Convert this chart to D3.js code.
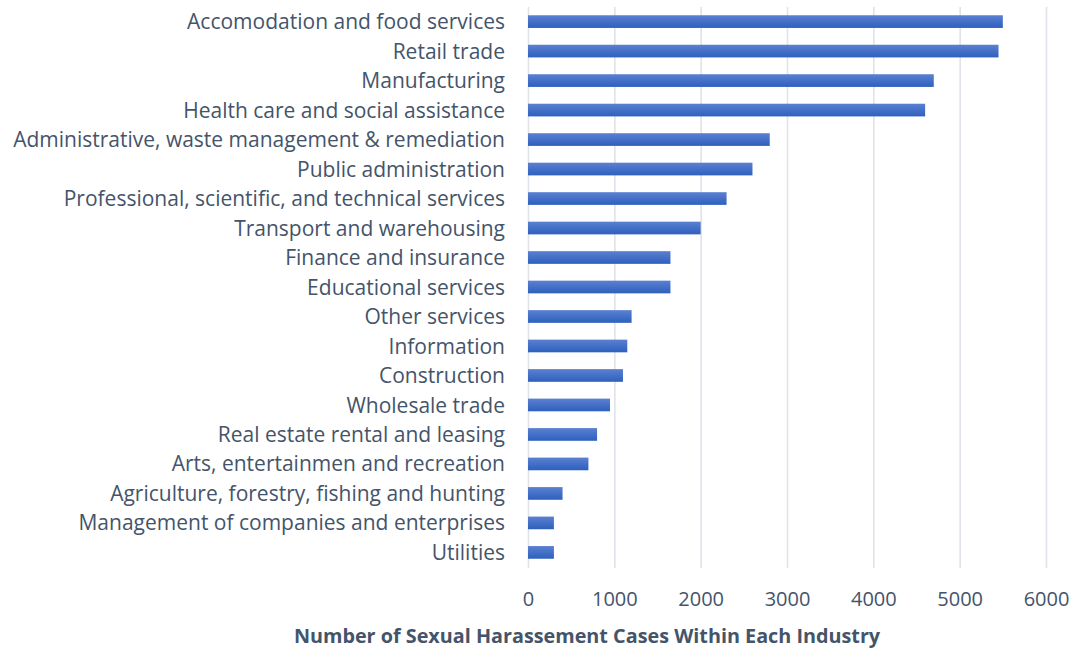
<!DOCTYPE html>
<html>
<head>
<meta charset="utf-8">
<script src="https://cdn.jsdelivr.net/npm/d3@7"></script>
<style>
  body { margin: 0; background: #fff; }
</style>
</head>
<body>
<div id="myChart"></div>
<script>
// Industries, top to bottom as in the chart
let industries = [
  "Accomodation and food services",
  "Retail trade",
  "Manufacturing",
  "Health care and social assistance",
  "Administrative, waste management & remediation",
  "Public administration",
  "Professional, scientific, and technical services",
  "Transport and warehousing",
  "Finance and insurance",
  "Educational services",
  "Other services",
  "Information",
  "Construction",
  "Wholesale trade",
  "Real estate rental and leasing",
  "Arts, entertainmen and recreation",
  "Agriculture, forestry, fishing and hunting",
  "Management of companies and enterprises",
  "Utilities",
];

let cases = [
  5500, 5450, 4700, 4600, 2800, 2600, 2300, 2000, 1650, 1650,
  1200, 1150, 1100, 950, 800, 700, 400, 300, 300,
];

let xTicks = [0, 1000, 2000, 3000, 4000, 5000, 6000];

let xTitle = "Number of Sexual Harassement Cases Within Each Industry";

let margin = { top: 7, right: 26, bottom: 83, left: 528 },
  width = 1072 - margin.left - margin.right,
  height = 650 - margin.top - margin.bottom;

let font = "'Open Sans', sans-serif";
let textColor = "#44546a";

let svgRoot = d3
  .select("#myChart")
  .append("svg")
  .attr("width", 1072)
  .attr("height", 650);

// Excel-ish blue gradient on bars
let grad = svgRoot
  .append("defs")
  .append("linearGradient")
  .attr("id", "barGrad")
  .attr("x1", 0)
  .attr("y1", 0)
  .attr("x2", 0)
  .attr("y2", 1);
grad.append("stop").attr("offset", "0%").attr("stop-color", "#5b80d1");
grad.append("stop").attr("offset", "100%").attr("stop-color", "#2d60bd");

let svg = svgRoot
  .append("g")
  .attr("transform", `translate(${margin.left}, ${margin.top})`);

let rows = industries.map((d, i) => ({ name: d, value: cases[i] }));

let x = d3.scaleLinear().domain([0, 6000]).range([0, width]);

let y = d3
  .scaleBand()
  .domain(industries)
  .range([0, height])
  .paddingInner(0.57)
  .paddingOuter(0.28);

// Vertical gridlines
svg
  .append("g")
  .attr("class", "grid")
  .call(
    d3
      .axisBottom(x)
      .tickValues(xTicks)
      .tickSize(height + 1)
      .tickFormat("")
  )
  .call((g) => g.select(".domain").remove())
  .call((g) =>
    g.selectAll("line").attr("stroke", "#dfe3ea").attr("stroke-width", 1.6)
  );

// Bars
svg
  .selectAll(".bar")
  .data(rows)
  .enter()
  .append("rect")
  .attr("class", "bar")
  .attr("x", x(0))
  .attr("y", (d) => y(d.name))
  .attr("width", (d) => x(d.value) - x(0))
  .attr("height", y.bandwidth())
  .attr("fill", "url(#barGrad)");

// X axis labels
let xAxis = svg
  .append("g")
  .attr("transform", `translate(0,${height})`)
  .call(
    d3
      .axisBottom(x)
      .tickValues(xTicks)
      .tickFormat(d3.format("d"))
      .tickSize(0)
      .tickPadding(25)
  );

xAxis.select(".domain").remove();
xAxis
  .selectAll(".tick text")
  .style("font-family", font)
  .style("font-size", "20px")
  .style("fill", textColor);

// Y axis labels
let yAxis = svg
  .append("g")
  .call(d3.axisLeft(y).tickSize(0).tickPadding(23));

yAxis.select(".domain").remove();
yAxis
  .selectAll(".tick text")
  .attr("dy", "0.36em")
  .style("font-family", font)
  .style("font-size", "21px")
  .style("fill", textColor);

// Axis title
svg
  .append("text")
  .attr("x", 59)
  .attr("y", height + 76)
  .style("text-anchor", "middle")
  .style("font-family", font)
  .style("font-size", "19.8px")
  .style("font-weight", "bold")
  .style("fill", textColor)
  .text(xTitle);
</script>
</body>
</html>
